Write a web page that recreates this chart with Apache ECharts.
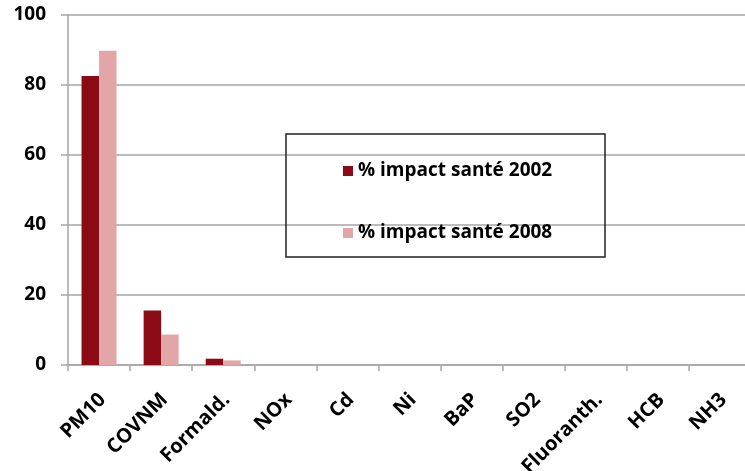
<!DOCTYPE html>
<html>
<head>
<meta charset="utf-8">
<script src="https://cdn.jsdelivr.net/npm/echarts@6/dist/echarts.min.js"></script>
<style>html,body{margin:0;padding:0;background:#fff}#c{width:745px;height:471px}</style>
</head>
<body>
<div id="c"></div>
<script>
const categories = ['PM10','COVNM','Formald.','NOx','Cd','Ni','BaP','SO2','Fluoranth.','HCB','NH3'];
const impact2002 = [82.6, 15.6, 1.8, 0, 0, 0, 0, 0, 0, 0, 0];
const impact2008 = [89.8, 8.7, 1.3, 0, 0, 0, 0, 0, 0, 0, 0];
const seriesNames = ['% impact santé 2002', '% impact santé 2008'];
const yTicks = [0, 20, 40, 60, 80, 100];

const FONT = '"Open Sans", "Liberation Sans", Arial, sans-serif';
const chart = echarts.init(document.getElementById('c'), null, {renderer: 'canvas'});
chart.setOption({
  animation: false,
  backgroundColor: '#fff',
  grid: {left: 68, top: 15, width: 683, height: 350, containLabel: false, outerBoundsMode: 'none'},
  xAxis: {
    type: 'category',
    data: categories,
    axisLine: {lineStyle: {color: '#a6a6a6', width: 1.5}},
    axisTick: {show: true, length: 6, lineStyle: {color: '#a6a6a6', width: 1.5}},
    axisLabel: {
      interval: 0, rotate: 45, margin: 21, align: 'right', verticalAlign: 'top',
      padding: [0, 5, 0, 0],
      color: '#000', fontWeight: 'bold', fontSize: 20, fontFamily: FONT
    }
  },
  yAxis: {
    type: 'value',
    min: yTicks[0], max: yTicks[yTicks.length - 1], interval: 20,
    axisLine: {show: true, lineStyle: {color: '#a6a6a6', width: 1.5}},
    axisTick: {show: true, length: 7, lineStyle: {color: '#a6a6a6', width: 1.5}},
    splitLine: {lineStyle: {color: '#a6a6a6', width: 1.5}},
    axisLabel: {margin: 22, color: '#000', fontWeight: 'bold', fontSize: 19, fontFamily: FONT}
  },
  legend: {
    orient: 'vertical',
    left: 338, top: 154,
    itemWidth: 10, itemHeight: 10, itemGap: 38,
    icon: 'rect',
    textStyle: {color: '#000', fontWeight: 'bold', fontSize: 19, fontFamily: FONT, lineHeight: 24}
  },
  graphic: [{
    type: 'rect',
    shape: {x: 286, y: 134, width: 319, height: 123},
    style: {fill: 'none', stroke: '#222', lineWidth: 1.5},
    z: 10
  }],
  series: [
    {name: seriesNames[0], type: 'bar', data: impact2002, barWidth: 17.5, barGap: '0%',
     itemStyle: {color: '#8c0a14'}},
    {name: seriesNames[1], type: 'bar', data: impact2008, barWidth: 17.5, barGap: '0%',
     itemStyle: {color: '#e2a6a8'}}
  ]
});
</script>
</body>
</html>
